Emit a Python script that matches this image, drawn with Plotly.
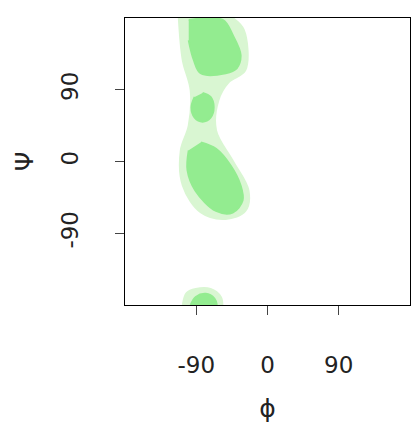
import plotly.graph_objects as go

# outlines, (phi, psi) in degrees
light_phi = [-112, -107, -97, -99.5, -109.5, -107, -84, -53, -28, -24, -44, -65, -62, -49, -28, -30, -44]
light_psi = [180, 127, 89, 45, 14, -30, -64, -72, -62, -36.5, 1, 39, 77, 99.5, 114.6, 165, 180]

upper_phi = [-99.5, -56.7, -44, -34, -39, -52.9, -84.3, -93, -99.5]
upper_psi = [177.5, 177.5, 158.6, 133.4, 117, 110.8, 110.8, 127, 152]

lower_phi = [-84, -65, -46.6, -34, -31.5, -44, -65, -91, -101, -99.5]
lower_psi = [24, 16, -5, -30, -49, -64, -62, -36.5, -11, 14]

dot_phi = [-82, -72, -68, -72, -82, -92, -96, -92]
dot_psi = [86, 81, 68, 55, 50, 55, 68, 81]

bot_light_phi = [-107, -102, -90.6, -72, -59, -57]
bot_light_psi = [-180, -165, -160, -160, -170, -180]
bot_dark_phi = [-97, -90.6, -78, -67, -64]
bot_dark_psi = [-180, -170, -166, -172, -180]

tick_vals = [-90, 0, 90]
tick_text = ["-90", "0", "90"]

LIGHT = "#d9f6d2"
DARK = "#93ec90"

fig = go.Figure()
for xs, ys, c in [(light_phi, light_psi, LIGHT), (bot_light_phi, bot_light_psi, LIGHT),
                  (upper_phi, upper_psi, DARK), (lower_phi, lower_psi, DARK),
                  (dot_phi, dot_psi, DARK), (bot_dark_phi, bot_dark_psi, DARK)]:
    fig.add_trace(go.Scatter(x=xs, y=ys, fill="toself", fillcolor=c, mode="lines",
                             line=dict(color=c, width=2, shape="spline"), hoverinfo="skip"))

axis = dict(range=[-180, 180], tickvals=tick_vals, ticktext=tick_text, ticks="outside", ticklen=9,
            showline=True, linecolor="black", mirror=True, showgrid=False, zeroline=False,
            automargin=False,
            tickfont=dict(size=23, color="#222"), title_font=dict(size=25, color="#222"))
fig.update_layout(width=420, height=440, showlegend=False, plot_bgcolor="white",
                  paper_bgcolor="white", margin=dict(l=117, r=18, t=10, b=143),
                  font=dict(family="DejaVu Sans"))
fig.update_xaxes(**axis, ticklabelstandoff=30, title_text="ϕ", title_standoff=22)
fig.update_yaxes(**axis, ticklabelstandoff=28, title_text="Ψ", tickangle=-90, title_standoff=16)
fig.write_html("out.html")
